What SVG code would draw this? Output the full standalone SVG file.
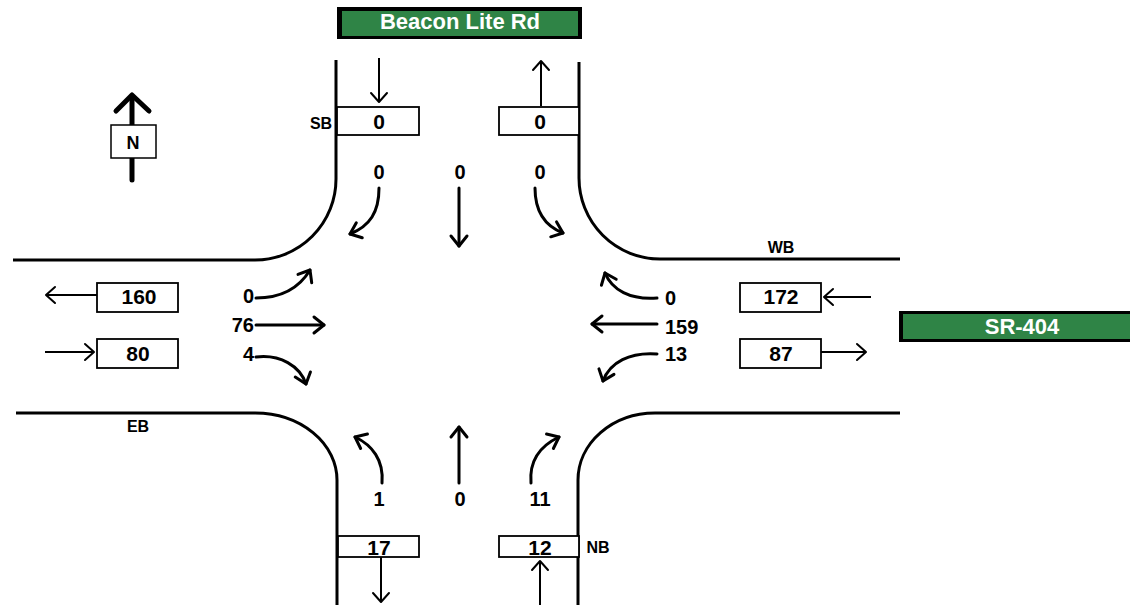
<svg xmlns="http://www.w3.org/2000/svg" width="1130" height="605" viewBox="0 0 1130 605">
<style>
.road{fill:none;stroke:#000;stroke-width:3}
.box{fill:#fff;stroke:#000;stroke-width:1.8}
.vol{fill:none;stroke:#000;stroke-width:2}
.mv{fill:none;stroke:#000;stroke-width:3;stroke-linecap:round}
.t{font-family:"Liberation Sans",Arial,sans-serif;font-weight:bold;fill:#000}
.bv{font-size:21px;text-anchor:middle}
.mvt{font-size:20px}
.lbl{font-size:16px;text-anchor:middle}
.sign{font-family:"Liberation Sans",Arial,sans-serif;font-weight:bold;fill:#fff;font-size:22px;text-anchor:middle}
</style>
<defs>
<marker id="ah" markerUnits="userSpaceOnUse" viewBox="-14 -10 16 20" refX="0" refY="0" markerWidth="16" markerHeight="20" orient="auto" overflow="visible">
<path d="M-10,-8 L0,0 L-10,8" fill="none" stroke="#000" stroke-width="3" stroke-linecap="round" stroke-linejoin="round"/>
</marker>
<marker id="ahs" markerUnits="userSpaceOnUse" viewBox="-12 -10 14 20" refX="0" refY="0" markerWidth="14" markerHeight="20" orient="auto" overflow="visible">
<path d="M-9,-8 L0,0 L-9,8" fill="none" stroke="#000" stroke-width="2" stroke-linecap="round" stroke-linejoin="round"/>
</marker>
</defs>
<rect width="1130" height="605" fill="#fff"/>

<g id="roads">
<path class="road" d="M13,260 H255 A81,81 0 0 0 336,179 V60"/>
<path class="road" d="M900,259 H660 A81,81 0 0 1 579,178 V62"/>
<path class="road" d="M16,413 H255 A82,67 0 0 1 337,480 V605"/>
<path class="road" d="M900,413 H655 A77,67 0 0 0 578,480 V605"/>
</g>

<g id="sign-beacon">
<rect x="337" y="7" width="245" height="32" fill="#000"/>
<rect x="342" y="11" width="236" height="25" fill="#2f8446"/>
<text class="sign" x="460" y="29">Beacon Lite Rd</text>
</g>
<g id="sign-sr404">
<rect x="899" y="311" width="231" height="31" fill="#000"/>
<rect x="903" y="314" width="227" height="25" fill="#2f8446"/>
<text class="sign" x="1022" y="334">SR-404</text>
</g>

<g id="north">
<path d="M132,180 V96" stroke="#000" stroke-width="5" stroke-linecap="round" fill="none"/>
<path d="M116,111 L132,95 L149,111" stroke="#000" stroke-width="5" stroke-linecap="round" stroke-linejoin="round" fill="none"/>
<rect x="111" y="125" width="45" height="33" fill="#fff" stroke="#000" stroke-width="1.5"/>
<text class="t" x="133" y="149" font-size="18" text-anchor="middle">N</text>
</g>

<g id="sb-approach">
<rect class="box" x="337" y="107" width="82" height="28"/>
<text class="t bv" x="379" y="129">0</text>
<text class="t lbl" x="321" y="129">SB</text>
</g>
<g id="nb-exit">
<rect class="box" x="499" y="107" width="80" height="28"/>
<text class="t bv" x="540" y="129">0</text>
</g>
<g id="eb-exit">
<rect class="box" x="97" y="283" width="81" height="29"/>
<text class="t bv" x="139" y="304">160</text>
</g>
<g id="eb-approach">
<rect class="box" x="97" y="339" width="81" height="29"/>
<text class="t bv" x="138" y="361">80</text>
<text class="t lbl" x="138" y="432">EB</text>
</g>
<g id="wb-approach">
<rect class="box" x="740" y="283" width="81" height="29"/>
<text class="t bv" x="781" y="304">172</text>
<text class="t lbl" x="781" y="253">WB</text>
</g>
<g id="wb-exit">
<rect class="box" x="740" y="339" width="81" height="29"/>
<text class="t bv" x="781" y="361">87</text>
</g>
<g id="sb-exit">
<rect class="box" x="338" y="536" width="81" height="21"/>
<text class="t bv" x="379" y="555">17</text>
</g>
<g id="nb-approach">
<rect class="box" x="499" y="536" width="80" height="21"/>
<text class="t bv" x="540" y="555">12</text>
<text class="t lbl" x="598" y="553">NB</text>
</g>

<g id="movement-labels" class="t mvt">
<text x="379" y="179" text-anchor="middle">0</text>
<text x="460" y="179" text-anchor="middle">0</text>
<text x="540" y="179" text-anchor="middle">0</text>
<text x="254" y="303" text-anchor="end">0</text>
<text x="254" y="332" text-anchor="end">76</text>
<text x="254" y="361" text-anchor="end">4</text>
<text x="665" y="305">0</text>
<text x="665" y="334">159</text>
<text x="665" y="361">13</text>
<text x="379" y="506" text-anchor="middle">1</text>
<text x="460" y="506" text-anchor="middle">0</text>
<text x="540" y="506" text-anchor="middle">11</text>
</g>

<g id="connectors">
<path class="vol" d="M379,58 V102" marker-end="url(#ahs)"/>
<path class="vol" d="M541,106 V61" marker-end="url(#ahs)"/>
<path class="vol" d="M97,295 H46" marker-end="url(#ahs)"/>
<path class="vol" d="M45,352 H94" marker-end="url(#ahs)"/>
<path class="vol" d="M871,297 H824" marker-end="url(#ahs)"/>
<path class="vol" d="M821,352 H866" marker-end="url(#ahs)"/>
<path class="vol" d="M381,557 V602" marker-end="url(#ahs)"/>
<path class="vol" d="M540,605 V561" marker-end="url(#ahs)"/>

<path class="mv" d="M379,188 C379,212 370,226 350,234" marker-end="url(#ah)"/>
<path class="mv" d="M459,188 V246" marker-end="url(#ah)"/>
<path class="mv" d="M535,188 C535,212 545,226 563,233" marker-end="url(#ah)"/>

<path class="mv" d="M256,298 C280,298 298,290 310,270" marker-end="url(#ah)"/>
<path class="mv" d="M256,325 H324" marker-end="url(#ah)"/>
<path class="mv" d="M256,357 C280,354 300,366 306,384" marker-end="url(#ah)"/>

<path class="mv" d="M657,298 C630,300 612,290 605,273" marker-end="url(#ah)"/>
<path class="mv" d="M657,324 H592" marker-end="url(#ah)"/>
<path class="mv" d="M657,354 C630,352 610,362 603,381" marker-end="url(#ah)"/>

<path class="mv" d="M382,483 C384,460 372,445 355,437" marker-end="url(#ah)"/>
<path class="mv" d="M459,483 V427" marker-end="url(#ah)"/>
<path class="mv" d="M531,483 C529,460 540,446 559,437" marker-end="url(#ah)"/>
</g>
</svg>
